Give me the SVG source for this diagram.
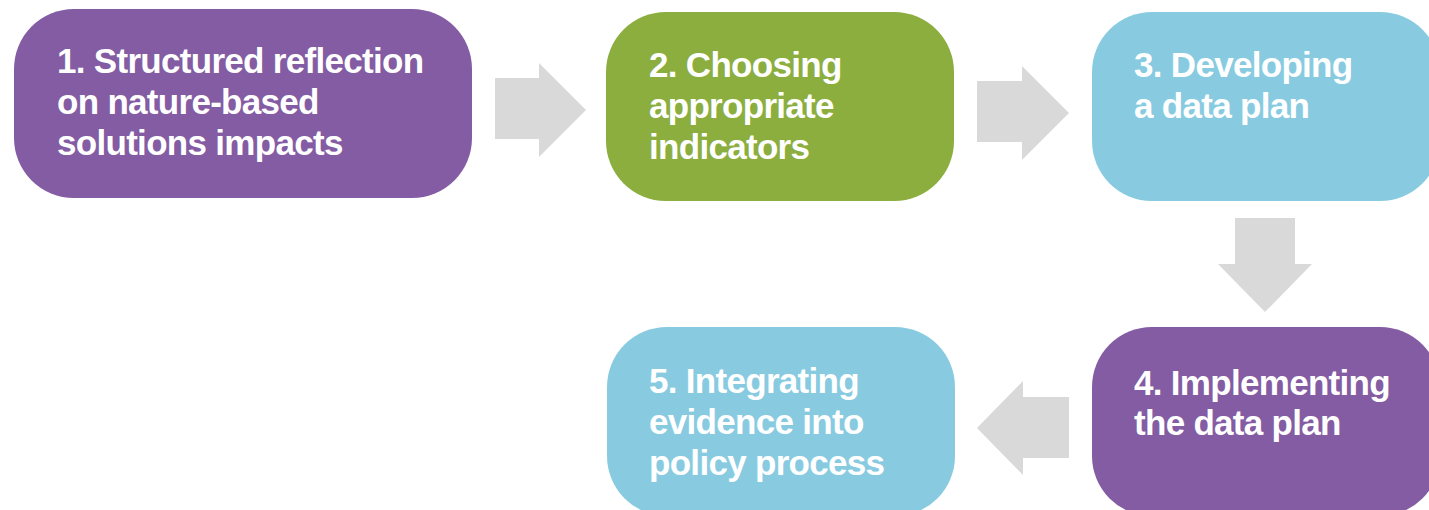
<svg xmlns="http://www.w3.org/2000/svg" width="1429" height="510" viewBox="0 0 1429 510">
<style>
.box{stroke:none}
.purple{fill:#835CA3}
.green{fill:#8BAE3F}
.blue{fill:#88CBE1}
.arrow{fill:#D9D9D9;stroke:none}
text{font-family:"Liberation Sans",Arial,sans-serif;font-weight:bold;font-size:35px;fill:#FFFFFF;letter-spacing:-0.7px}
</style>
<rect width="1429" height="510" fill="#FFFFFF"/>
<g id="connectors">
<polygon class="arrow" points="495,78 539,78 539,63 586,110 539,157 539,139 495,139"/>
<polygon class="arrow" points="977,81 1022,81 1022,66 1069,113 1022,160 1022,142 977,142"/>
<polygon class="arrow" points="1235,218 1295,218 1295,264 1312,264 1265,312 1218,264 1235,264"/>
<polygon class="arrow" points="1069,397 1023,397 1023,381 977,428 1023,475 1023,458 1069,458"/>
</g>
<g id="node1">
<rect class="box purple" x="14" y="9" width="458" height="189" rx="60" ry="60"/>
<text x="57" y="73">1. Structured reflection</text>
<text x="57" y="114">on nature-based</text>
<text x="57" y="155">solutions impacts</text>
</g>
<g id="node2">
<rect class="box green" x="606" y="12" width="348" height="189" rx="60" ry="60"/>
<text x="649" y="77">2. Choosing</text>
<text x="649" y="118">appropriate</text>
<text x="649" y="159">indicators</text>
</g>
<g id="node3">
<rect class="box blue" x="1092" y="12" width="348" height="189" rx="60" ry="60"/>
<text x="1134" y="77">3. Developing</text>
<text x="1134" y="118">a data plan</text>
</g>
<g id="node4">
<rect class="box purple" x="1092" y="327" width="348" height="189" rx="60" ry="60"/>
<text x="1134" y="395">4. Implementing</text>
<text x="1134" y="435">the data plan</text>
</g>
<g id="node5">
<rect class="box blue" x="607" y="327" width="348" height="189" rx="60" ry="60"/>
<text x="649" y="393">5. Integrating</text>
<text x="649" y="434">evidence into</text>
<text x="649" y="475">policy process</text>
</g>
</svg>
